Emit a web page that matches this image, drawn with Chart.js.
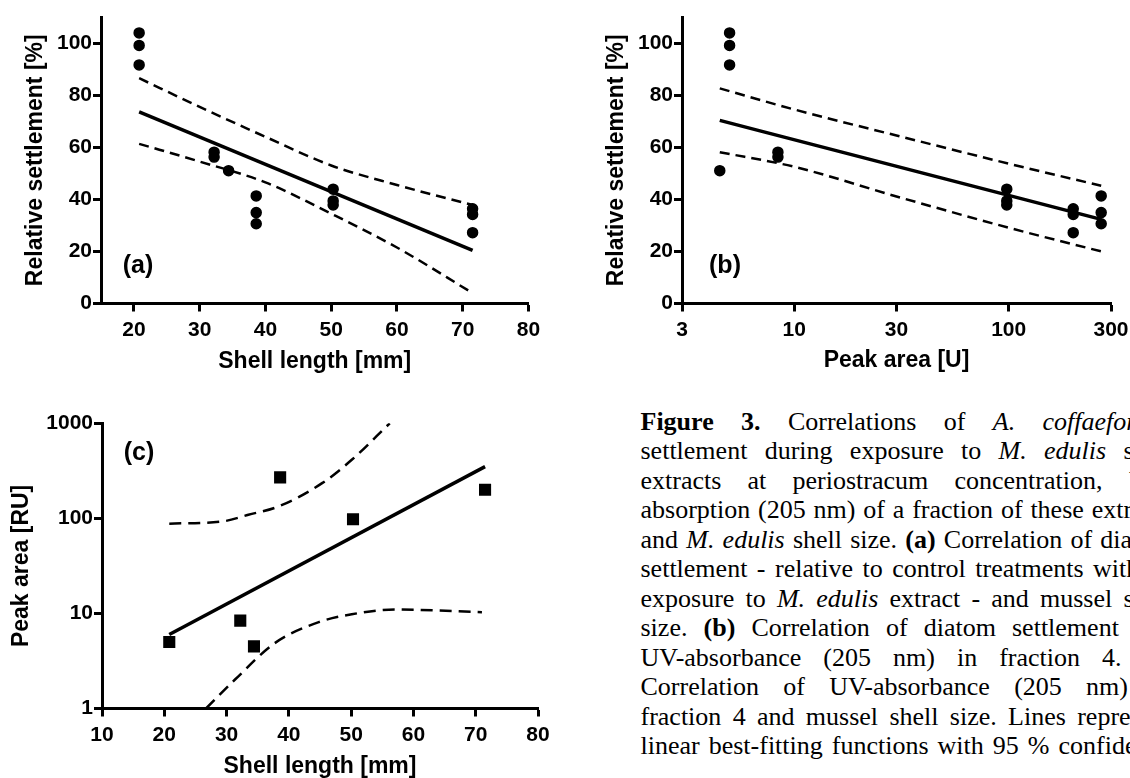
<!DOCTYPE html>
<html>
<head>
<meta charset="utf-8">
<script src="https://cdn.jsdelivr.net/npm/chart.js@4.4.1/dist/chart.umd.min.js"></script>
<style>
  html, body { margin: 0; padding: 0; background: #fff; }
  #page { position: relative; width: 1130px; height: 778px; overflow: hidden; background: #fff; }
  canvas { position: absolute; }
  #caption {
    position: absolute; left: 640.5px; top: 406.5px; width: 532px;
    font-family: "Liberation Serif", "Times New Roman", serif;
    font-size: 26px; line-height: 29.5px; color: #000;
  }
  #caption div { text-align: justify; text-align-last: justify; }
</style>
</head>
<body>
<div id="page">
  <canvas id="chartA" width="560" height="380" style="left:0;top:0;width:560px;height:380px"></canvas>
  <canvas id="chartB" width="600" height="380" style="left:560px;top:0;width:600px;height:380px"></canvas>
  <canvas id="chartC" width="560" height="398" style="left:0;top:380px;width:560px;height:398px"></canvas>
  <div id="caption">
    <div><b>Figure 3.</b> Correlations of <i>A. coffaeformis</i></div>
    <div>settlement during exposure to <i>M. edulis</i> shell</div>
    <div>extracts at periostracum concentration, UV-</div>
    <div>absorption (205 nm) of a fraction of these extracts</div>
    <div>and <i>M. edulis</i> shell size. <b>(a)</b> Correlation of diatom</div>
    <div>settlement - relative to control treatments without</div>
    <div>exposure to <i>M. edulis</i> extract - and mussel shell</div>
    <div>size. <b>(b)</b> Correlation of diatom settlement and</div>
    <div>UV-absorbance (205 nm) in fraction 4. <b>(c)</b></div>
    <div>Correlation of UV-absorbance (205 nm) in</div>
    <div>fraction 4 and mussel shell size. Lines represent</div>
    <div>linear best-fitting functions with 95 % confidence</div>
  </div>
</div>
<script>
// Measured values, one entry per mussel group
const shellLength = [20.8, 32.2, 34.4, 38.6, 50.3, 71.5]; // mm
const peakArea = [5.0, 8.4, 4.5, 270, 98, 200]; // U / RU
const settlement = [
  [103.9, 99.1, 91.6],
  [58.1, 56.2],
  [51.0],
  [41.3, 34.9, 30.6],
  [43.9, 39.4, 37.8],
  [36.4, 34.2, 27.2],
]; // %

// Fitted lines and 95 % bands
const fitAx = [20.8, 71.5];
const fitAy = [73.6, 20.4];
const bandAx = [20.8, 30, 40, 50, 60, 71.5];
const bandAupper = [86.5, 75.5, 64, 53, 45.5, 37.8];
const bandAlower = [61.3, 54.5, 46.5, 34.5, 21.5, 4];

const fitBx = [4.5, 270];
const fitBy = [70.3, 32.3];
const bandBx = [4.5, 10, 30, 100, 270];
const bandBupper = [82.6, 74.5, 64.5, 53.7, 45.2];
const bandBlower = [58.1, 52.5, 41.1, 29.1, 20.0];

const fitCx = [20.8, 71.5];
const fitCy = [6.0, 350];
const bandCupperX = [20.8, 29.4, 33.5, 38.4, 45.4, 50.1, 56.2];
const bandCupper = [88, 93, 109, 134, 236, 413, 1000];
const bandClowerX = [26.7, 31.4, 37.8, 44.8, 50.1, 57.1, 71.0];
const bandClower = [1, 2.03, 4.9, 8.1, 9.8, 11, 10.3];

// Tick labels
const xTicksA = [20, 30, 40, 50, 60, 70, 80];
const yTicksAB = [0, 20, 40, 60, 80, 100];
const xTicksB = [3, 10, 30, 100, 300];
const xTicksC = [10, 20, 30, 40, 50, 60, 70, 80];
const yTicksC = [1, 10, 100, 1000];

Chart.defaults.font.family = '"Liberation Sans", Arial, sans-serif';
Chart.defaults.color = "#000";

const toXY = (xs, ys) => xs.map((x, i) => ({ x: x, y: ys[i] }));

// Custom plugin to write the panel letter
const panelLabel = {
  id: "panelLabel",
  afterDraw(chart, args, opts) {
    const { ctx, chartArea } = chart;
    ctx.save();
    ctx.font = 'bold 25px "Liberation Sans", Arial, sans-serif';
    ctx.fillStyle = "#000";
    ctx.textAlign = "center";
    ctx.textBaseline = "middle";
    ctx.fillText(opts.text, chartArea.left + opts.dx, chartArea.top + opts.dy);
    ctx.restore();
  },
};

function makeAxis(type, min, max, tickValues, title, size, titlePad, isX) {
  return {
    type: type,
    min: min,
    max: max,
    afterBuildTicks: (axis) => {
      axis.ticks = tickValues.map((v) => ({ value: v }));
    },
    afterFit: (axis) => {
      if (isX) axis.height = size;
      else axis.width = size;
    },
    ticks: {
      padding: isX ? 6 : 1,
      font: { size: 21, weight: "bold" },
      color: "#000",
      callback: (v) => String(v),
    },
    grid: {
      drawOnChartArea: false,
      drawTicks: true,
      tickLength: 8,
      tickWidth: 3,
      tickColor: "#000",
    },
    border: { display: true, width: 3, color: "#000" },
    title: {
      display: true,
      text: title,
      color: "#000",
      font: { size: 23, weight: "bold", lineHeight: 1 },
      padding: isX ? { top: 0, bottom: titlePad } : { top: titlePad, bottom: 0 },
    },
  };
}

function pointSet(data, style, radius) {
  return {
    data: data,
    showLine: false,
    pointStyle: style,
    pointRadius: radius,
    pointBorderWidth: 1.5,
    pointBackgroundColor: "#000",
    pointBorderColor: "#000",
  };
}

function lineSet(data, dash, width) {
  return {
    data: data,
    showLine: true,
    borderColor: "#000",
    borderWidth: width,
    borderDash: dash,
    pointRadius: 0,
    cubicInterpolationMode: "monotone",
    fill: false,
  };
}

function makeChart(id, datasets, xAxis, yAxis, padding, label) {
  return new Chart(document.getElementById(id), {
    type: "scatter",
    data: { datasets: datasets },
    options: {
      responsive: false,
      animation: false,
      devicePixelRatio: 1,
      layout: { padding: padding },
      scales: { x: xAxis, y: yAxis },
      plugins: {
        legend: { display: false },
        tooltip: { enabled: false },
        panelLabel: label,
      },
    },
    plugins: [panelLabel],
  });
}

// (a) settlement vs shell length
const pointsA = shellLength.flatMap((x, i) => settlement[i].map((y) => ({ x: x, y: y })));
makeChart(
  "chartA",
  [
    pointSet(pointsA, "circle", 5),
    lineSet(toXY(fitAx, fitAy), [], 3.5),
    lineSet(toXY(bandAx, bandAupper), [10, 6], 2.5),
    lineSet(toXY(bandAx, bandAlower), [10, 6], 2.5),
  ],
  makeAxis("linear", 15, 80, xTicksA, "Shell length [mm]", 76.5, 6.5, true),
  makeAxis("linear", 0, 110, yTicksAB, "Relative settlement [%]", 101, 24.5, false),
  { top: 17, right: 31.5, left: 0, bottom: 0 },
  { text: "(a)", dx: 37, dy: 249 }
);

// (b) settlement vs peak area
const pointsB = peakArea.flatMap((x, i) => settlement[i].map((y) => ({ x: x, y: y })));
makeChart(
  "chartB",
  [
    pointSet(pointsB, "circle", 5),
    lineSet(toXY(fitBx, fitBy), [], 3.5),
    lineSet(toXY(bandBx, bandBupper), [10, 6], 2.5),
    lineSet(toXY(bandBx, bandBlower), [10, 6], 2.5),
  ],
  makeAxis("logarithmic", 3, 300, xTicksB, "Peak area [U]", 76.5, 8, true),
  makeAxis("linear", 0, 110, yTicksAB, "Relative settlement [%]", 122, 45, false),
  { top: 17, right: 49, left: 0, bottom: 0 },
  { text: "(b)", dx: 43, dy: 249 }
);

// (c) peak area vs shell length
const pointsC = toXY(shellLength, peakArea);
makeChart(
  "chartC",
  [
    pointSet(pointsC, "rect", 7.5),
    lineSet(toXY(fitCx, fitCy), [], 3.5),
    lineSet(toXY(bandCupperX, bandCupper), [12, 7], 2.5),
    lineSet(toXY(bandClowerX, bandClower), [12, 7], 2.5),
  ],
  makeAxis("linear", 10, 80, xTicksC, "Shell length [mm]", 69.5, 0, true),
  makeAxis("logarithmic", 1, 1000, yTicksC, "Peak area [RU]", 102, 10, false),
  { top: 43.3, right: 22, left: 0, bottom: 0 },
  { text: "(c)", dx: 37, dy: 30 }
);
</script>
</body>
</html>
